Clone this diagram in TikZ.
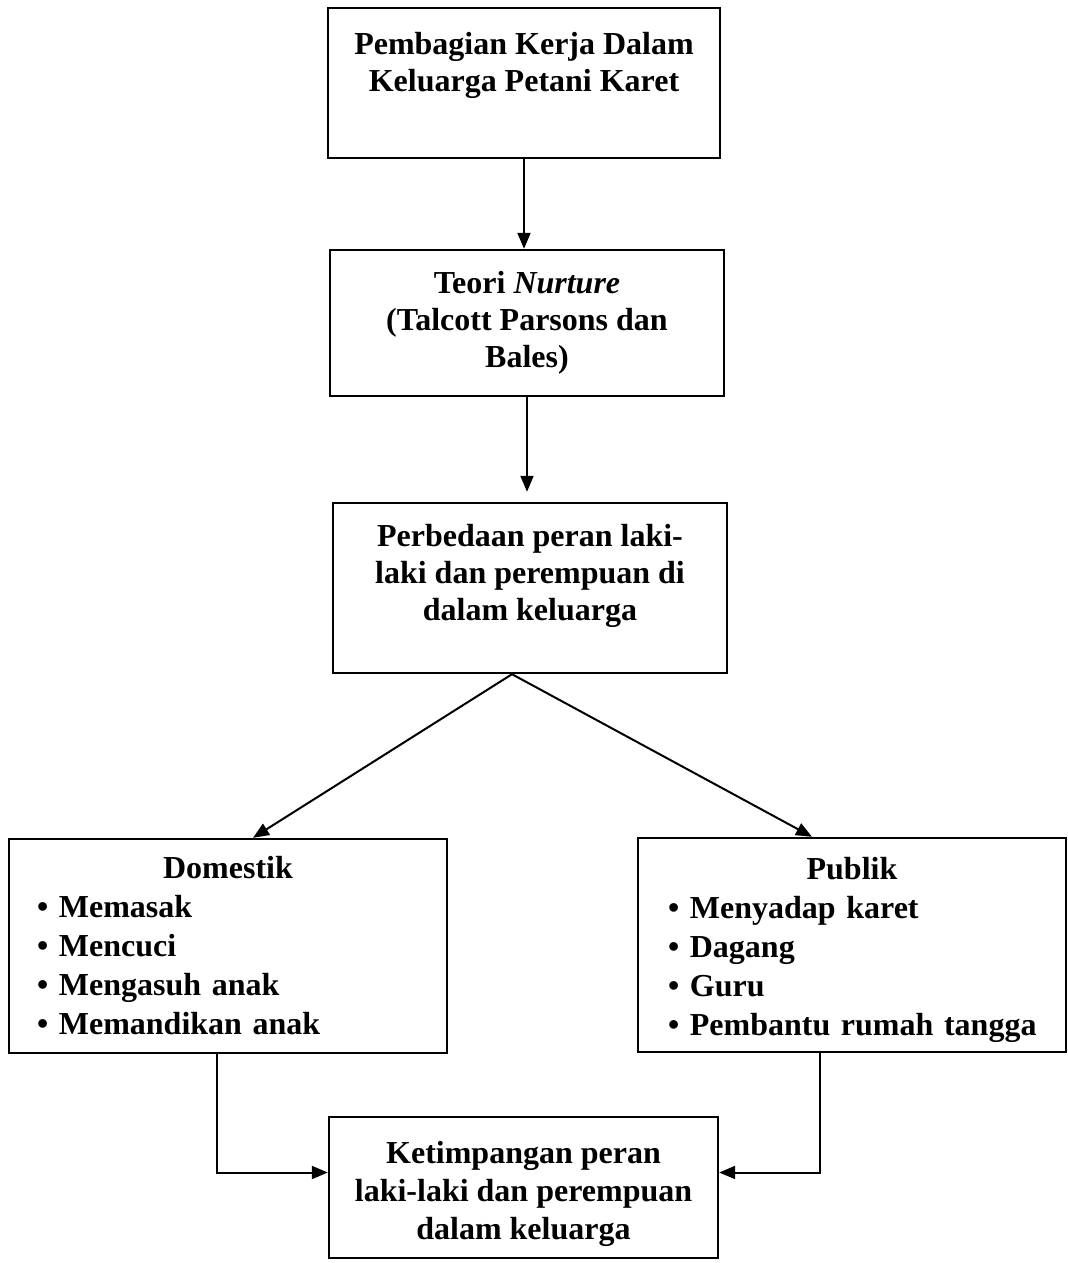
\documentclass[tikz,border=0pt]{standalone}
\usepackage{fontspec}
\setmainfont{Liberation Serif}
\usetikzlibrary{arrows.meta}

\tikzset{
  kotak/.style={draw, line width=1.2pt, inner sep=0pt, align=center,
    font=\fontsize{16}{18.5}\selectfont\bfseries},
  daftar/.style={kotak, align=left, font=\fontsize{16}{19.5}\selectfont\bfseries},
  panah/.style={draw, line width=1pt, -{Triangle[length=8pt,width=6.5pt]}}
}

\begin{document}
\begin{tikzpicture}[x=.5pt, y=-.5pt]
\useasboundingbox (0,0) rectangle (1068,1263);
\node [kotak, minimum width=196pt, minimum height=75pt, text height=12.6pt, text depth=4pt] (kerja) at (524,83) {Pembagian Kerja Dalam\\ Keluarga Petani Karet};
\node [kotak, minimum width=197pt, minimum height=73pt] (teori) at (527,323) {Teori \textit{Nurture}\\ (Talcott Parsons dan\\ Bales)};
\node [kotak, minimum width=197pt, minimum height=85pt, text height=36.1pt, text depth=4pt] (beda) at (530,588) {Perbedaan peran laki-\\ laki dan perempuan di\\ dalam keluarga};
\node [daftar, minimum width=219pt, minimum height=107pt, text width=191pt] (domestik) at (228,946)
  {\makebox[\linewidth]{Domestik}\\ \mbox{\textbullet{} Memasak}\\ \mbox{\textbullet{} Mencuci}\\ \mbox{\textbullet{} Mengasuh anak}\\ \mbox{\textbullet{} Memandikan anak}};
\node [daftar, minimum width=214pt, minimum height=107pt, text width=184pt, text height=12pt, text depth=78pt] (publik) at (852,945)
  {\makebox[\linewidth]{Publik}\\ \mbox{\textbullet{} Menyadap karet}\\ \mbox{\textbullet{} Dagang}\\ \mbox{\textbullet{} Guru}\\ \mbox{\textbullet{} Pembantu rumah tangga}};
\node [kotak, minimum width=194.5pt, minimum height=70.5pt, text height=55.5pt, text depth=4pt, font=\fontsize{16}{19}\selectfont\bfseries] (timpang) at (523.5,1187.5) {Ketimpangan peran\\ laki-laki dan perempuan\\ dalam keluarga};

% alur
\path [panah] (kerja.south) -- (kerja.south |- teori.north);
\path [panah, shorten >=5pt] (teori.south) -- (teori.south |- beda.north);
\path [panah] ([xshift=-9pt]beda.south) -- ([xshift=12.5pt]domestik.north);
\path [panah] ([xshift=-9pt]beda.south) -- ([xshift=-20pt]publik.north);
\path [panah] ([xshift=-5.5pt]domestik.south) |- ([yshift=7.5pt]timpang.west);
\path [panah] ([xshift=-16pt]publik.south) |- ([yshift=7.5pt]timpang.east);
\end{tikzpicture}
\end{document}
